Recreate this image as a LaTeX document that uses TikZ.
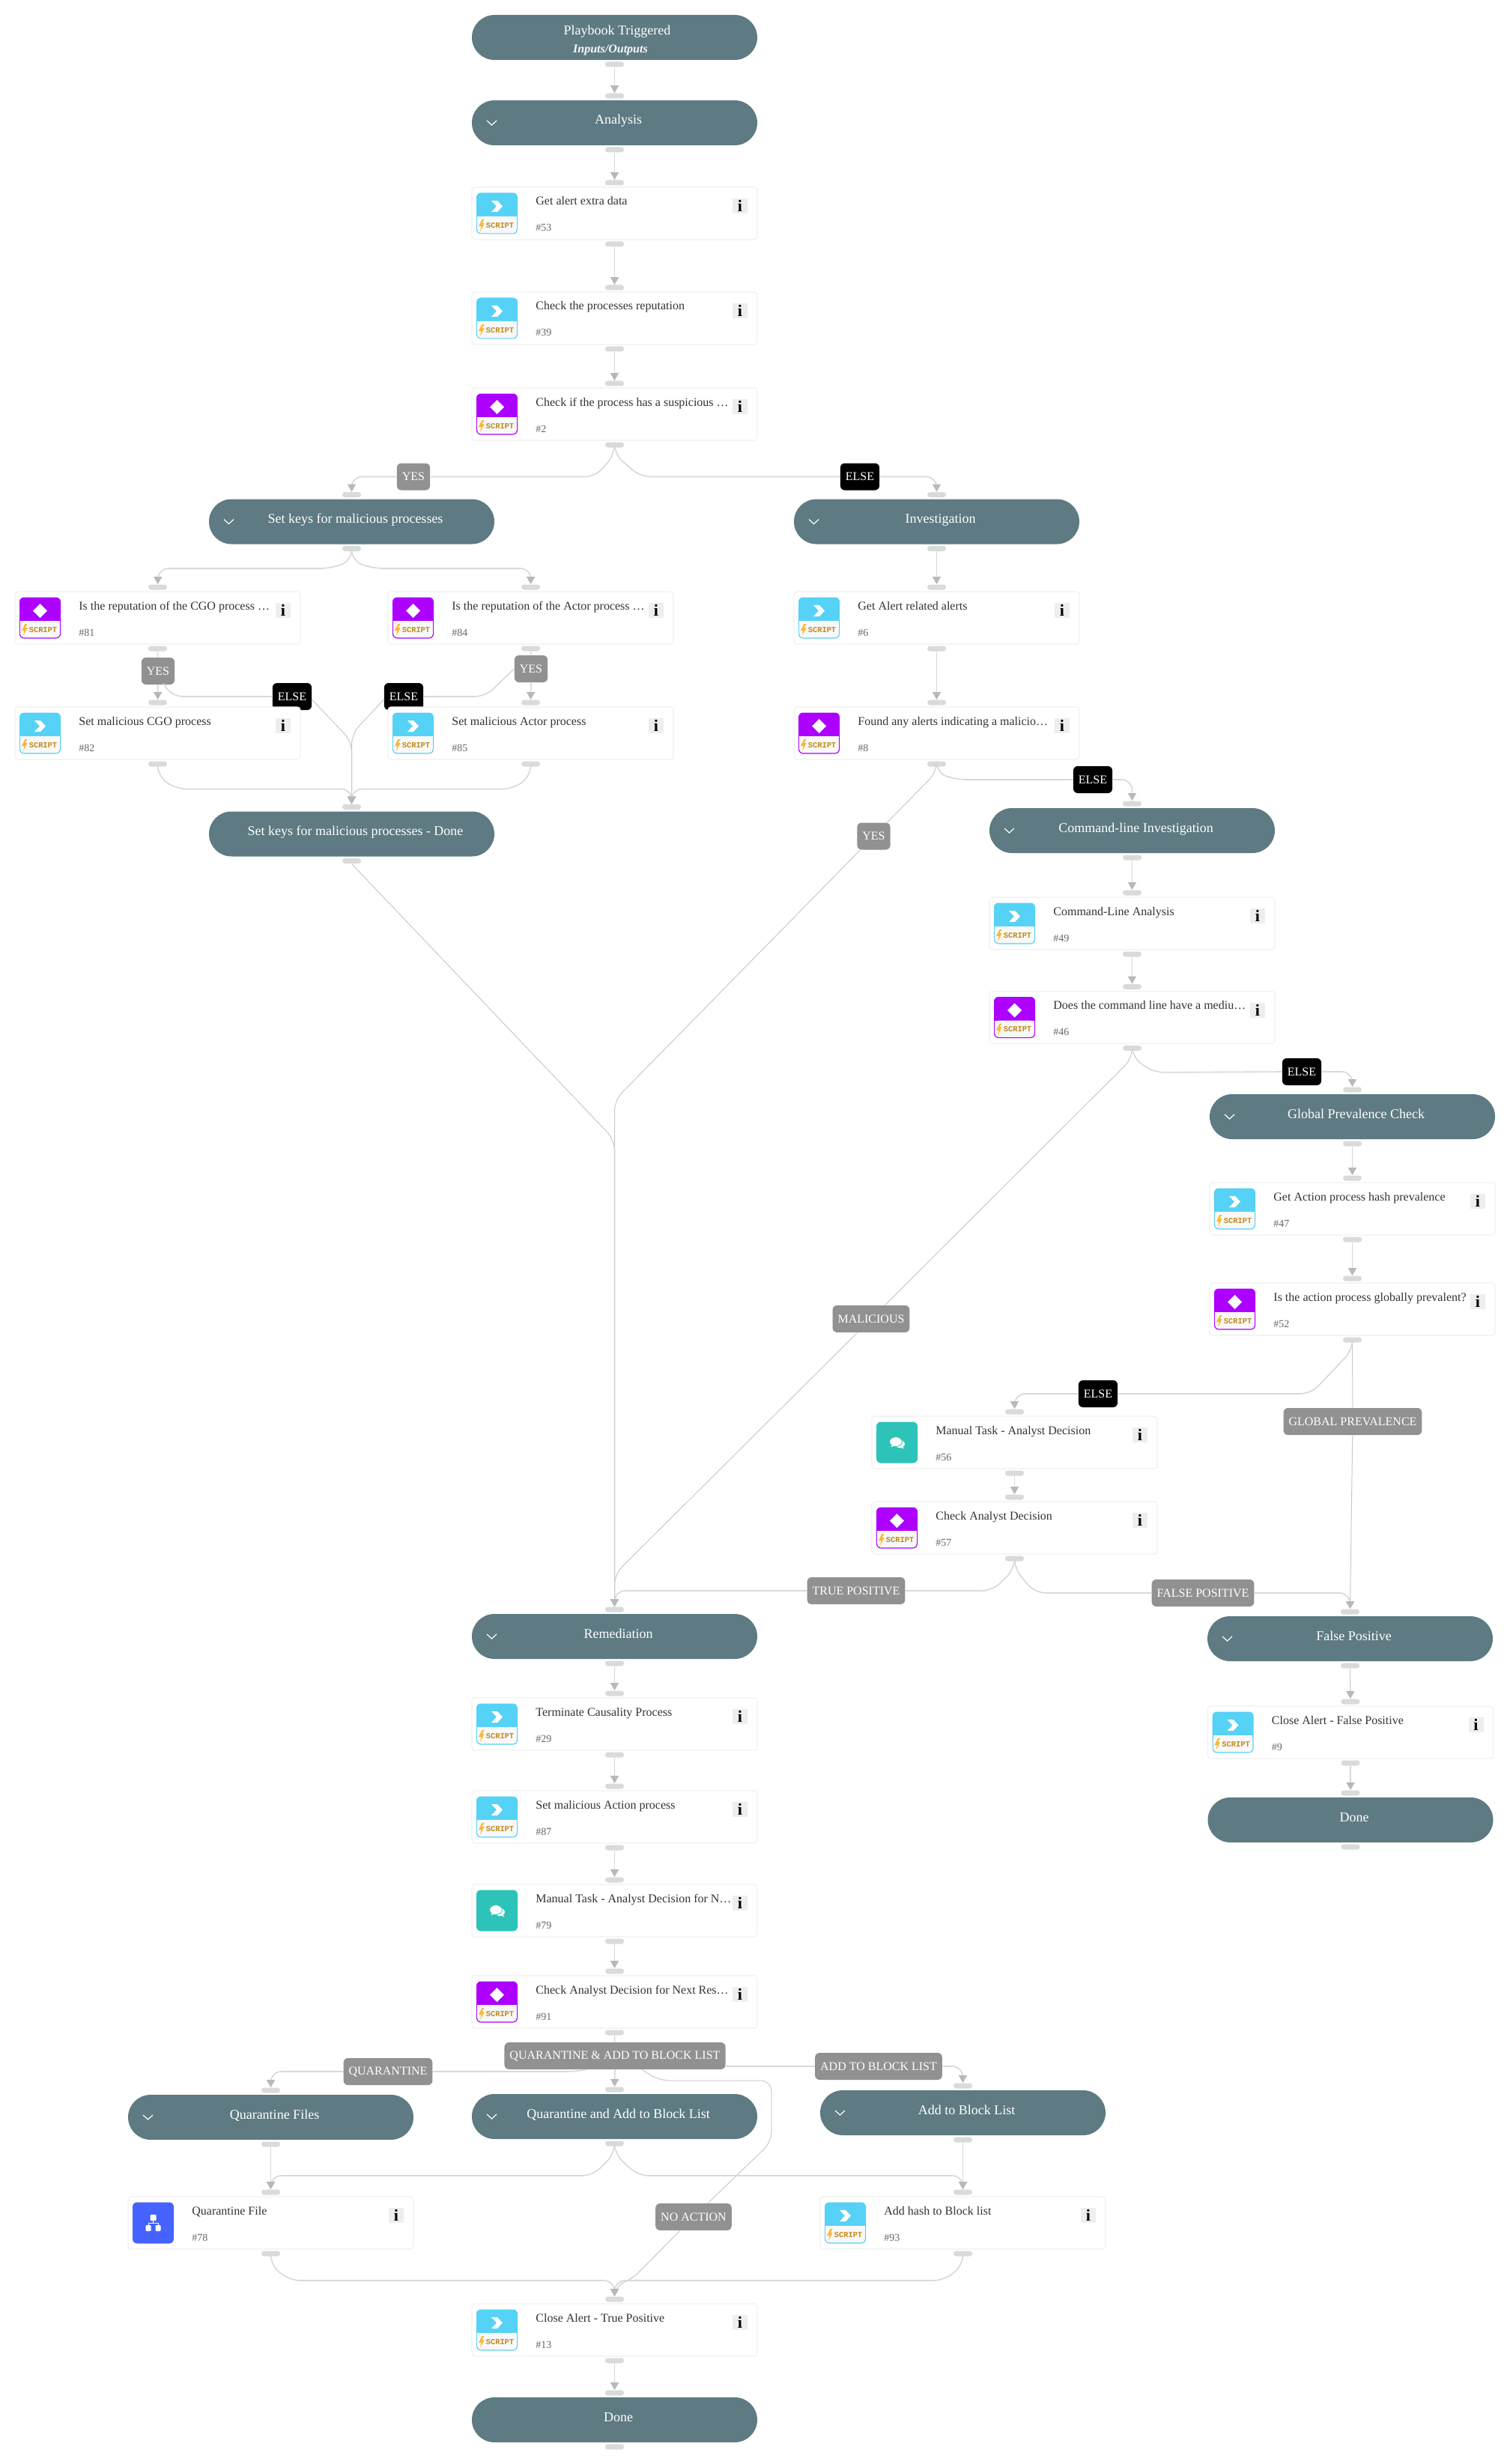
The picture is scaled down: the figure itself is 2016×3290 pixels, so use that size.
\documentclass[tikz,border=0pt]{standalone}
\usepackage{fontspec}
\usepackage{xcolor}
\setmainfont{Liberation Serif}
\newfontfamily\badgefont{Liberation Mono}
\usetikzlibrary{arrows.meta}

\definecolor{pillcolor}{HTML}{5E7A82}
\definecolor{cardline}{HTML}{F1F1F1}
\definecolor{portcolor}{HTML}{D9DADA}
\definecolor{linecolor}{HTML}{D8D8D8}
\definecolor{thincolor}{HTML}{C9C9C9}
\definecolor{tipcolor}{HTML}{B8B8B8}
\definecolor{taggray}{HTML}{919191}
\definecolor{infogray}{HTML}{EEEEEE}
\definecolor{scriptcyan}{HTML}{55D2F6}
\definecolor{condpurple}{HTML}{AD00FF}
\definecolor{chatteal}{HTML}{2DC3B8}
\definecolor{subblue}{HTML}{4662FF}
\definecolor{badgebg}{HTML}{F8F8F8}
\definecolor{boltcolor}{HTML}{FDB62F}
\definecolor{badgetext}{HTML}{C08A1C}

\tikzset{
    pillbox/.style={fill=pillcolor, rounded corners=15pt, minimum width=190.5pt, minimum height=30pt, inner sep=0pt},
    pilltext/.style={anchor=base, text=white, inner sep=0pt, font=\fontsize{9}{11}\selectfont},
    subtext/.style={anchor=base, text=badgebg, inner sep=0pt, font=\bfseries\itshape\fontsize{8}{9}\selectfont},
    cardbox/.style={draw=cardline, line width=0.6pt, fill=white, rounded corners=2pt, minimum width=190.5pt, minimum height=35pt, inner sep=0pt},
    cardtitle/.style={anchor=base west, text=black!80, inner sep=0pt, font=\fontsize{8}{9.6}\selectfont},
    cardid/.style={anchor=base west, text=black!60, inner sep=0pt, font=\fontsize{7}{8.4}\selectfont},
    infobox/.style={fill=infogray, minimum size=10pt, inner sep=0pt, font=\bfseries\fontsize{11}{11}\selectfont},
    portbox/.style={fill=portcolor, rounded corners=1.7pt, minimum width=12.5pt, minimum height=3.5pt, inner sep=0pt},
    tagbox/.style={fill=taggray, text=white, rounded corners=3pt, minimum height=18pt, inner xsep=3.5pt, inner ysep=0pt, font=\fontsize{8}{9.6}\selectfont},
    elsebox/.style={tagbox, fill=black},
    badgelabel/.style={text=badgetext, inner sep=0pt, font=\badgefont\bfseries\fontsize{5.2}{6}\selectfont},
    flow/.style={draw=linecolor, line width=0.8pt, rounded corners=7pt, -{Triangle[length=5pt,width=5.5pt,color=tipcolor]}},
    plain/.style={draw=linecolor, line width=0.8pt, rounded corners=7pt},
    thinflow/.style={flow, draw=thincolor, line width=0.5pt},
    thinplain/.style={plain, draw=thincolor, line width=0.5pt}
}

\newcommand{\flowpill}[4]{
    \node[pillbox] (#1) at (#2,#3) {};
    \node[pilltext] (#1-text) at ([shift={(5,2)}]#1.center) {#4};
    \node[portbox] (#1-in) at ([yshift=18pt]#1.center) {};
    \node[portbox] (#1-out) at ([yshift=-18pt]#1.center) {};
}
\newcommand{\flowsub}[4]{
    \flowpill{#1}{#2}{#3}{#4}
    \draw[white, line width=0.6pt, shift={(#1.center)}] (-170.5,-3) -- (-164,3) -- (-157.5,-3);
}
\newcommand{\badge}[1]{
    \fill[#1, rounded corners=3pt] (-27.5,-27.5) rectangle (27.5,27.5);
    \fill[badgebg, rounded corners=2.5pt] (-26.4,4) rectangle (26.4,26.4);
    \fill[badgebg] (-26.4,4) rectangle (26.4,12);
    \fill[boltcolor] (-20,8) -- (-24.5,17) -- (-21,17) -- (-22.5,24) -- (-17,13) -- (-20,13) -- (-17,8) -- cycle;
    \node[badgelabel] (\cardname-script) at (4,16) {SCRIPT};
}
\newcommand{\iconplay}{
    \badge{scriptcyan}
    \fill[white] (-7.5,-17) -- (0.5,-17) -- (7.5,-9.5) -- (0.5,-2) -- (-7.5,-2) -- (-0.5,-9.5) -- cycle;
}
\newcommand{\iconcond}{
    \badge{condpurple}
    \fill[white] (0,-19) -- (9.5,-9.5) -- (0,0) -- (-9.5,-9.5) -- cycle;
}
\newcommand{\iconchat}{
    \fill[chatteal, rounded corners=3pt] (-27.5,-27.5) rectangle (27.5,27.5);
    \fill[white] (4,2) ellipse[x radius=3.2pt, y radius=2.6pt];
    \fill[white] (6,4) -- (10,8.5) -- (3,6) -- cycle;
    \fill[white, draw=chatteal, line width=0.4pt] (-1.5,-1) ellipse[x radius=4.2pt, y radius=3.2pt];
    \fill[white] (-6,2) -- (-8,6) -- (-1,4) -- cycle;
}
\newcommand{\iconsub}{
    \fill[subblue, rounded corners=3pt] (-27.5,-27.5) rectangle (27.5,27.5);
    \fill[white, rounded corners=0.5pt] (-4,-11) rectangle (4,-3);
    \draw[white, line width=0.5pt] (0,-3) -- (0,0) -- (-6.5,0) -- (-6.5,3) (0,0) -- (6.5,0) -- (6.5,3);
    \fill[white, rounded corners=0.5pt] (-10,3) rectangle (-3,11);
    \fill[white, rounded corners=0.5pt] (3,3) rectangle (10,11);
}
\newcommand{\flowcard}[6]{
    \def\cardname{#1}
    \node[cardbox] (#1) at (#2,#3) {};
    \node[cardtitle] (#1-title) at ([shift={(-105.5,-11)}]#1.center) {#4};
    \node[cardid] (#1-id) at ([shift={(-105.5,24)}]#1.center) {\##5};
    \node[infobox] (#1-info) at ([shift={(167.5,-10)}]#1.center) {i};
    \node[portbox] (#1-in) at ([yshift=20.5pt]#1.center) {};
    \node[portbox] (#1-out) at ([yshift=-20.5pt]#1.center) {};
    \begin{scope}[shift={(#1.center)}, xshift=-78.5pt]
        #6
    \end{scope}
}

\begin{document}
\begin{tikzpicture}[x=0.5pt,y=-0.5pt]
        \useasboundingbox (0,0) rectangle (2016,3290);

        \node[elsebox] (else81) at (390,930) {ELSE};
        \node[elsebox] (else84) at (539,930) {ELSE};

        \node[pillbox] (start) at (820.5,50) {};
        \node[pilltext] (start-text) at (824,47) {Playbook Triggered};
        \node[subtext] (start-io) at (815,71) {Inputs/Outputs};
        \node[portbox] (start-out) at (820.5,86) {};
        \flowsub{analysis}{820.5}{164}{Analysis}
        \flowcard{c53}{820.5}{285}{Get alert extra data}{53}{\iconplay}
        \flowcard{c39}{820.5}{425}{Check the processes reputation}{39}{\iconplay}
        \flowcard{c2}{820.5}{553}{Check if the process has a suspicious …}{2}{\iconcond}

        \flowsub{keys}{469.5}{696.5}{Set keys for malicious processes}
        \flowcard{c81}{210.5}{825}{Is the reputation of the CGO process …}{81}{\iconcond}
        \flowcard{c84}{708.5}{825}{Is the reputation of the Actor process …}{84}{\iconcond}
        \flowcard{c82}{210.5}{979}{Set malicious CGO process}{82}{\iconplay}
        \flowcard{c85}{708.5}{979}{Set malicious Actor process}{85}{\iconplay}
        \flowpill{keysdone}{469.5}{1113.5}{Set keys for malicious processes - Done}

        \flowsub{invest}{1250.5}{696.5}{Investigation}
        \flowcard{c6}{1250.5}{825}{Get Alert related alerts}{6}{\iconplay}
        \flowcard{c8}{1250.5}{979}{Found any alerts indicating a malicio…}{8}{\iconcond}

        \flowsub{cmd}{1511.5}{1109}{Command-line Investigation}
        \flowcard{c49}{1511.5}{1233}{Command-Line Analysis}{49}{\iconplay}
        \flowcard{c46}{1511.5}{1358.5}{Does the command line have a mediu…}{46}{\iconcond}

        \flowsub{globalp}{1805.5}{1491}{Global Prevalence Check}
        \flowcard{c47}{1805.5}{1614}{Get Action process hash prevalence}{47}{\iconplay}
        \flowcard{c52}{1805.5}{1748}{Is the action process globally prevalent?}{52}{\iconcond}

        \flowcard{c56}{1354.5}{1926}{Manual Task - Analyst Decision}{56}{\iconchat}
        \flowcard{c57}{1354.5}{2040}{Check Analyst Decision}{57}{\iconcond}

        \flowsub{fpos}{1802.5}{2188}{False Positive}
        \flowcard{c9}{1803}{2313}{Close Alert - False Positive}{9}{\iconplay}
        \flowpill{donefp}{1803}{2430}{Done}

        \flowsub{remed}{820.5}{2185}{Remediation}
        \flowcard{c29}{820.5}{2302}{Terminate Causality Process}{29}{\iconplay}
        \flowcard{c87}{820.5}{2426}{Set malicious Action process}{87}{\iconplay}
        \flowcard{c79}{820.5}{2551}{Manual Task - Analyst Decision for N…}{79}{\iconchat}
        \flowcard{c91}{820.5}{2673}{Check Analyst Decision for Next Res…}{91}{\iconcond}

        \flowsub{qfiles}{361.5}{2827}{Quarantine Files}
        \flowsub{qadd}{820.5}{2826}{Quarantine and Add to Block List}
        \flowsub{addblock}{1285.5}{2821}{Add to Block List}
        \flowcard{c78}{361.5}{2968}{Quarantine File}{78}{\iconsub}
        \flowcard{c93}{1285.5}{2968}{Add hash to Block list}{93}{\iconplay}
        \flowcard{c13}{820.5}{3111}{Close Alert - True Positive}{13}{\iconplay}
        \flowpill{done}{820.5}{3231}{Done}

        \node[tagbox] (yes2) at (552,636.5) {YES};
        \node[elsebox] (else2) at (1148,636.5) {ELSE};
        \node[tagbox] (yes81) at (211,896) {YES};
        \node[tagbox] (yes84) at (709,893) {YES};
        \node[tagbox] (yes8) at (1166.5,1116.5) {YES};
        \node[elsebox] (else8) at (1459,1041) {ELSE};
        \node[tagbox] (mal) at (1163,1761) {MALICIOUS};
        \node[elsebox] (else46) at (1738,1431) {ELSE};
        \node[elsebox] (else52) at (1466,1861) {ELSE};
        \node[tagbox] (glob) at (1806,1898) {GLOBAL PREVALENCE};
        \node[tagbox] (tp) at (1143,2124) {TRUE POSITIVE};
        \node[tagbox] (fp) at (1606,2127) {FALSE POSITIVE};
        \node[tagbox] (q) at (518,2766) {QUARANTINE};
        \node[tagbox] (qa) at (821,2745) {QUARANTINE \& ADD TO BLOCK LIST};
        \node[tagbox] (ab) at (1173,2759) {ADD TO BLOCK LIST};
        \node[tagbox] (na) at (926,2960) {NO ACTION};

        \draw[flow] (start-out) -- (analysis-in);
        \draw[flow] (analysis-out) -- (c53-in);
        \draw[flow] (c53-out) -- (c39-in);
        \draw[flow] (c39-out) -- (c2-in);
        \draw[plain] (c2-out.south) -- ++(0,9) -- (795,636.5) -- (yes2.east);
        \draw[flow] (yes2.west) -- (yes2.west -| keys-in.north) -- (keys-in.north);
        \draw[plain] (c2-out.south) -- ++(0,9) -- (855,636.5) -- (else2.west);
        \draw[flow] (else2.east) -- (else2.east -| invest-in.north) -- (invest-in.north);

        \draw[flow] (keys-out.south) -- ++(0,12) -- (442,759) -- (211,759) -- (c81-in.north);
        \draw[flow] (keys-out.south) -- ++(0,12) -- (497,759) -- (709,759) -- (c84-in.north);
        \draw[plain] (c81-out) -- (yes81);
        \draw[flow] (yes81) -- (c82-in);
        \draw[plain] (c84-out) -- (yes84);
        \draw[flow] (yes84) -- (c85-in);
        \draw[plain] ([xshift=3.5pt,yshift=1pt]yes81.south) -- (230,930) -- (else81.west);
        \draw[plain] (yes84.west) -- (648,930) -- (else84.east);
        \draw[thinflow] ([yshift=-2pt]else81.east) -- (469.5,990) -- (keysdone-in.north);
        \draw[thinflow] ([yshift=-2pt]else84.west) -- (469.5,980) -- (keysdone-in.north);
        \draw[flow] (c82-out.south) -- ++(0,12) -- (235,1053.5) -- (keysdone-in.north |- 0,1053.5) -- (keysdone-in.north);
        \draw[flow] (c85-out.south) -- ++(0,12) -- (685,1053.5) -- (keysdone-in.north |- 0,1053.5) -- (keysdone-in.north);

        \draw[flow] (invest-out) -- (c6-in);
        \draw[flow] (c6-out) -- (c8-in);
        \draw[thinplain] (c8-out.south) -- ++(0,7) -- (yes8);
        \draw[thinflow] (keysdone-out.south) -- (820.5,1522) -- (remed-in.north);
        \draw[thinflow] (yes8) -- (820.5,1469) -- (remed-in.north);
        \draw[plain] (c8-out.south) -- ++(0,8) -- (1276,1041) -- (else8.west);
        \draw[flow] (else8.east) -- (else8.east -| cmd-in.north) -- (cmd-in.north);
        \draw[flow] (cmd-out) -- (c49-in);
        \draw[flow] (c49-out) -- (c46-in);

        \draw[thinplain] (c46-out.south) -- ++(0,10) -- (mal);
        \draw[thinflow] (mal) -- (820.5,2102) -- (remed-in.north);
        \draw[plain] (c46-out.south) -- ++(0,8) -- (1540,1432) -- (else46.west);
        \draw[flow] (else46.east) -- (else46.east -| globalp-in.north) -- (globalp-in.north);
        \draw[flow] (globalp-out) -- (c47-in);
        \draw[flow] (c47-out) -- (c52-in);
        \draw[thinplain] (c52-out) -- (glob);
        \draw[thinflow] (glob) -- (fpos-in.north);
        \draw[plain] (c52-out.south) -- ++(0,10) -- (1750,1861) -- (else52.east);
        \draw[flow] (else52.west) -- (else52.west -| c56-in.north) -- (c56-in.north);
        \draw[flow] (c56-out) -- (c57-in);
        \draw[plain] (c57-out.south) -- ++(0,10) -- (1325,2124) -- (tp.east);
        \draw[flow] (tp.west) -- (tp.west -| remed-in.north) -- (remed-in.north);
        \draw[plain] (c57-out.south) -- ++(0,10) -- (1382,2127) -- (fp.west);
        \draw[flow] (fp.east) -- (fp.east -| fpos-in.north) -- (fpos-in.north);
        \draw[flow] (fpos-out) -- (c9-in);
        \draw[flow] (c9-out) -- (donefp-in);

        \draw[flow] (remed-out) -- (c29-in);
        \draw[flow] (c29-out) -- (c87-in);
        \draw[flow] (c87-out) -- (c79-in);
        \draw[flow] (c79-out) -- (c91-in);
        \draw[plain] (c91-out) -- (qa);
        \draw[flow] (qa.south) -- (qadd-in.north);
        \draw[plain] ([xshift=-19pt]qa.south) -- (768,2766) -- (q.east);
        \draw[flow] (q.west) -- (q.west -| qfiles-in.north) -- (qfiles-in.north);
        \draw[plain] ([yshift=-7pt]qa.east) -- (ab.west);
        \draw[flow] (ab.east) -- (ab.east -| addblock-in.north) -- (addblock-in.north);
        \draw[thinplain] ([xshift=18pt]qa.south) -- (880,2778) -- (1030,2778) -- (1030,2860) -- (na);
        \draw[thinflow] (na) -- (843,3044) -- (c13-in.north |- 0,3052) -- (c13-in.north);

        \draw[flow] (qfiles-out) -- (c78-in);
        \draw[flow] (addblock-out) -- (c93-in);
        \draw[flow] (qadd-out.south) -- ++(0,10) -- (791,2905) -- (c78-in.north |- 0,2905) -- (c78-in.north);
        \draw[flow] (qadd-out.south) -- ++(0,10) -- (852,2905) -- (c93-in.north |- 0,2905) -- (c93-in.north);
        \draw[flow] (c78-out.south) -- ++(0,12) -- (387,3045) -- (c13-in.north |- 0,3045) -- (c13-in.north);
        \draw[flow] (c93-out.south) -- ++(0,12) -- (1260,3045) -- (c13-in.north |- 0,3045) -- (c13-in.north);
        \draw[flow] (c13-out) -- (done-in);
    \end{tikzpicture}
\end{document}
